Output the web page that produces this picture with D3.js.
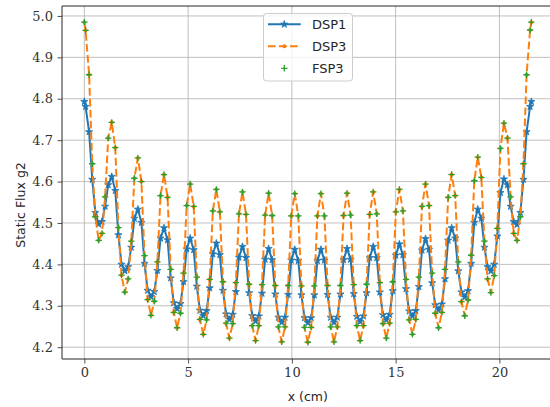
<!DOCTYPE html>
<html>
<head>
<meta charset="utf-8">
<script src="https://cdn.jsdelivr.net/npm/d3@7"></script>
<style>
  body { margin: 0; background: #fff; }
</style>
</head>
<body>
<div id="chart"></div>
<script>
// mesh positions (cm) across the assembly
const xCm = [
  0,
  0.06, 0.23, 0.38, 0.53, 0.69, 0.85, 1.00, 1.15,
  1.32, 1.49, 1.64, 1.79, 1.95, 2.11, 2.26, 2.41,
  2.58, 2.75, 2.90, 3.05, 3.21, 3.37, 3.52, 3.67,
  3.84, 4.01, 4.16, 4.31, 4.47, 4.63, 4.78, 4.93,
  5.10, 5.27, 5.42, 5.57, 5.73, 5.89, 6.04, 6.19,
  6.36, 6.53, 6.68, 6.83, 6.99, 7.15, 7.30, 7.45,
  7.62, 7.79, 7.94, 8.09, 8.25, 8.41, 8.56, 8.71,
  8.88, 9.05, 9.20, 9.35, 9.51, 9.67, 9.82, 9.97,
  10.14, 10.31, 10.46, 10.61, 10.77, 10.93, 11.08, 11.23,
  11.40, 11.57, 11.72, 11.87, 12.03, 12.19, 12.34, 12.49,
  12.66, 12.83, 12.98, 13.13, 13.29, 13.45, 13.60, 13.75,
  13.92, 14.09, 14.24, 14.39, 14.55, 14.71, 14.86, 15.01,
  15.18, 15.35, 15.50, 15.65, 15.81, 15.97, 16.12, 16.27,
  16.44, 16.61, 16.76, 16.91, 17.07, 17.23, 17.38, 17.53,
  17.70, 17.87, 18.02, 18.17, 18.33, 18.49, 18.64, 18.79,
  18.96, 19.13, 19.28, 19.43, 19.59, 19.75, 19.90, 20.05,
  20.22, 20.39, 20.54, 20.69, 20.85, 21.01, 21.16, 21.31,
  21.48, 21.54
];

const dsp1 = [
  4.793,
  4.781, 4.720, 4.605, 4.525, 4.497, 4.503, 4.540, 4.592,
  4.612, 4.578, 4.471, 4.400, 4.384, 4.394, 4.441, 4.511,
  4.533, 4.501, 4.402, 4.337, 4.322, 4.334, 4.385, 4.463,
  4.488, 4.459, 4.367, 4.307, 4.293, 4.305, 4.358, 4.437,
  4.463, 4.435, 4.347, 4.289, 4.276, 4.288, 4.343, 4.425,
  4.451, 4.423, 4.337, 4.280, 4.267, 4.279, 4.334, 4.417,
  4.443, 4.416, 4.331, 4.276, 4.263, 4.275, 4.330, 4.412,
  4.438, 4.411, 4.328, 4.272, 4.260, 4.272, 4.327, 4.410,
  4.436, 4.409, 4.326, 4.271, 4.259, 4.271, 4.326, 4.409,
  4.436, 4.410, 4.327, 4.272, 4.260, 4.272, 4.328, 4.411,
  4.438, 4.412, 4.329, 4.274, 4.262, 4.275, 4.331, 4.416,
  4.443, 4.416, 4.333, 4.278, 4.266, 4.279, 4.336, 4.422,
  4.449, 4.423, 4.341, 4.287, 4.275, 4.288, 4.346, 4.434,
  4.462, 4.436, 4.355, 4.302, 4.290, 4.304, 4.365, 4.458,
  4.488, 4.463, 4.384, 4.333, 4.321, 4.336, 4.402, 4.501,
  4.533, 4.511, 4.441, 4.394, 4.384, 4.400, 4.468, 4.573,
  4.606, 4.592, 4.540, 4.503, 4.496, 4.525, 4.605, 4.720,
  4.781, 4.793
];

const dsp3 = [
  4.985,
  4.965, 4.858, 4.643, 4.515, 4.458, 4.475, 4.563, 4.705,
  4.743, 4.682, 4.489, 4.374, 4.333, 4.365, 4.456, 4.608,
  4.657, 4.600, 4.421, 4.315, 4.277, 4.311, 4.406, 4.566,
  4.617, 4.562, 4.388, 4.284, 4.247, 4.282, 4.379, 4.542,
  4.594, 4.540, 4.369, 4.267, 4.231, 4.266, 4.364, 4.529,
  4.581, 4.527, 4.358, 4.258, 4.222, 4.257, 4.356, 4.522,
  4.575, 4.521, 4.352, 4.252, 4.216, 4.252, 4.351, 4.519,
  4.572, 4.518, 4.349, 4.249, 4.213, 4.249, 4.349, 4.517,
  4.571, 4.517, 4.348, 4.248, 4.212, 4.248, 4.348, 4.517,
  4.571, 4.517, 4.349, 4.249, 4.213, 4.249, 4.349, 4.518,
  4.572, 4.519, 4.351, 4.252, 4.216, 4.252, 4.352, 4.521,
  4.575, 4.522, 4.356, 4.257, 4.222, 4.258, 4.358, 4.527,
  4.581, 4.529, 4.364, 4.266, 4.231, 4.267, 4.369, 4.540,
  4.594, 4.542, 4.379, 4.282, 4.247, 4.284, 4.388, 4.562,
  4.617, 4.566, 4.406, 4.310, 4.276, 4.314, 4.422, 4.602,
  4.659, 4.610, 4.456, 4.365, 4.332, 4.373, 4.487, 4.680,
  4.741, 4.705, 4.563, 4.475, 4.458, 4.515, 4.643, 4.858,
  4.966, 4.985
];

const fsp3 = [
  4.985,
  4.965, 4.858, 4.643, 4.515, 4.458, 4.475, 4.563, 4.705,
  4.743, 4.682, 4.489, 4.374, 4.333, 4.365, 4.456, 4.608,
  4.657, 4.600, 4.421, 4.315, 4.277, 4.311, 4.406, 4.566,
  4.617, 4.562, 4.388, 4.284, 4.247, 4.282, 4.379, 4.542,
  4.594, 4.540, 4.369, 4.267, 4.231, 4.266, 4.364, 4.529,
  4.581, 4.527, 4.358, 4.258, 4.222, 4.257, 4.356, 4.522,
  4.575, 4.521, 4.352, 4.252, 4.216, 4.252, 4.351, 4.519,
  4.572, 4.518, 4.349, 4.249, 4.213, 4.249, 4.349, 4.517,
  4.571, 4.517, 4.348, 4.248, 4.212, 4.248, 4.348, 4.517,
  4.571, 4.517, 4.349, 4.249, 4.213, 4.249, 4.349, 4.518,
  4.572, 4.519, 4.351, 4.252, 4.216, 4.252, 4.352, 4.521,
  4.575, 4.522, 4.356, 4.257, 4.222, 4.258, 4.358, 4.527,
  4.581, 4.529, 4.364, 4.266, 4.231, 4.267, 4.369, 4.540,
  4.594, 4.542, 4.379, 4.282, 4.247, 4.284, 4.388, 4.562,
  4.617, 4.566, 4.406, 4.310, 4.276, 4.314, 4.422, 4.602,
  4.659, 4.610, 4.456, 4.365, 4.332, 4.373, 4.487, 4.680,
  4.741, 4.705, 4.563, 4.475, 4.458, 4.515, 4.643, 4.858,
  4.966, 4.985
];

const seriesNames = ["DSP1", "DSP3", "FSP3"];
const xTicks = [0, 5, 10, 15, 20];
const yTicks = [4.2, 4.3, 4.4, 4.5, 4.6, 4.7, 4.8, 4.9, 5.0];

const width = 550, height = 407;
const plot = {left: 62, right: 553.7, top: 6, bottom: 359};
const blue = "#1f77b4", orange = "#ff7f0e", green = "#2ca02c";

const svg = d3.select("#chart").append("svg")
    .attr("width", width)
    .attr("height", height);

const xScale = d3.scaleLinear()
    .domain([-1.077, 22.617])
    .range([plot.left, plot.right]);
const yScale = d3.scaleLinear()
    .domain([4.1715, 5.024])
    .range([plot.bottom, plot.top]);

svg.append("defs").append("clipPath").attr("id", "clip")
  .append("rect")
    .attr("x", plot.left).attr("y", plot.top)
    .attr("width", plot.right - plot.left)
    .attr("height", plot.bottom - plot.top);

// grid
const grid = svg.append("g").attr("stroke", "#b0b0b0").attr("stroke-width", 0.8);
grid.selectAll(".gx").data(xTicks).join("line")
    .attr("x1", d => xScale(d)).attr("x2", d => xScale(d))
    .attr("y1", plot.top).attr("y2", plot.bottom);
grid.selectAll(".gy").data(yTicks).join("line")
    .attr("x1", plot.left).attr("x2", plot.right)
    .attr("y1", d => yScale(d)).attr("y2", d => yScale(d));

const pts = (vals) => xCm.map((x, i) => ({x: x, y: vals[i]}));
const line = d3.line().x(d => xScale(d.x)).y(d => yScale(d.y));
const star = d3.symbol().type(d3.symbolStar).size(16);

const marks = svg.append("g").attr("clip-path", "url(#clip)");

// DSP1
marks.append("path").datum(pts(dsp1))
    .attr("fill", "none").attr("stroke", blue)
    .attr("stroke-width", 2).attr("stroke-linejoin", "round")
    .attr("d", line);
marks.append("g").selectAll("path").data(pts(dsp1)).join("path")
    .attr("transform", d => `translate(${xScale(d.x)},${yScale(d.y)})`)
    .attr("d", star).attr("fill", blue).attr("stroke", blue).attr("stroke-width", 0.8);

// DSP3
marks.append("path").datum(pts(dsp3))
    .attr("fill", "none").attr("stroke", orange)
    .attr("stroke-width", 2).attr("stroke-dasharray", "7.7,3.3")
    .attr("d", line);
marks.append("g").selectAll("circle").data(pts(dsp3)).join("circle")
    .attr("cx", d => xScale(d.x)).attr("cy", d => yScale(d.y))
    .attr("r", 2).attr("fill", orange);

// FSP3 (markers only)
marks.append("g").selectAll("path").data(pts(fsp3)).join("path")
    .attr("d", d => `M${xScale(d.x) - 3.2},${yScale(d.y)}h6.4M${xScale(d.x)},${yScale(d.y) - 3.2}v6.4`)
    .attr("stroke", green).attr("stroke-width", 1.3).attr("fill", "none");

// axes
const xAxis = svg.append("g")
    .attr("transform", "translate(0," + plot.bottom + ")")
    .call(d3.axisBottom(xScale).tickValues(xTicks).tickSize(4.5).tickPadding(4).tickFormat(d3.format("d")));
const yAxis = svg.append("g")
    .attr("transform", "translate(" + plot.left + ",0)")
    .call(d3.axisLeft(yScale).tickValues(yTicks).tickSize(4.5).tickPadding(4.5).tickFormat(d3.format(".1f")));
[xAxis, yAxis].forEach(a => {
  a.select(".domain").remove();
  a.selectAll("text").attr("font-family", "DejaVu Serif").attr("font-size", 13).attr("fill", "#333");
  a.selectAll("line").attr("stroke", "#262626").attr("stroke-width", 0.8);
});

// spines
svg.append("line").attr("x1", plot.left).attr("x2", plot.left).attr("y1", plot.top).attr("y2", plot.bottom)
    .attr("stroke", "#262626").attr("stroke-width", 1);
svg.append("line").attr("x1", plot.left).attr("x2", plot.right).attr("y1", plot.bottom).attr("y2", plot.bottom)
    .attr("stroke", "#262626").attr("stroke-width", 1);
svg.append("line").attr("x1", plot.left).attr("x2", plot.right).attr("y1", plot.top).attr("y2", plot.top)
    .attr("stroke", "#262626").attr("stroke-width", 1);

// axis labels
svg.append("text")
    .attr("x", (plot.left + plot.right) / 2).attr("y", 401)
    .attr("text-anchor", "middle")
    .attr("font-family", "DejaVu Sans").attr("font-size", 12.5).attr("fill", "#262626")
    .text("x (cm)");
svg.append("text")
    .attr("transform", "translate(24.5,205) rotate(-90)")
    .attr("text-anchor", "middle")
    .attr("font-family", "DejaVu Sans").attr("font-size", 12.5).attr("fill", "#262626")
    .text("Static Flux g2");

// legend
const legend = svg.append("g");
legend.append("rect")
    .attr("x", 263.5).attr("y", 13.5).attr("width", 89).attr("height", 67.5)
    .attr("rx", 3).attr("fill", "#fff").attr("fill-opacity", 0.8)
    .attr("stroke", "#cccccc").attr("stroke-width", 1);
const rows = legend.selectAll("g.row").data(seriesNames).join("g")
    .attr("transform", (d, i) => `translate(268,${24.3 + i * 22})`);
rows.append("text")
    .attr("x", 44).attr("dy", "0.36em")
    .attr("font-family", "DejaVu Sans").attr("font-size", 13).attr("fill", "#262626")
    .text(d => d);
rows.filter((d, i) => i === 0).each(function() {
  const g = d3.select(this);
  g.append("line").attr("x1", 0).attr("x2", 32.7).attr("stroke", blue).attr("stroke-width", 2);
  g.append("path").attr("transform", "translate(16.3,0)").attr("d", star).attr("fill", blue).attr("stroke", blue).attr("stroke-width", 0.8);
});
rows.filter((d, i) => i === 1).each(function() {
  const g = d3.select(this);
  g.append("line").attr("x1", 0).attr("x2", 32.7).attr("stroke", orange).attr("stroke-width", 2).attr("stroke-dasharray", "7.7,3.3");
  g.append("circle").attr("cx", 16.3).attr("r", 2).attr("fill", orange);
});
rows.filter((d, i) => i === 2).each(function() {
  const g = d3.select(this);
  g.append("path").attr("d", "M13.1,0h6.4M16.3,-3.2v6.4").attr("stroke", green).attr("stroke-width", 1.3);
});
</script>
</body>
</html>
